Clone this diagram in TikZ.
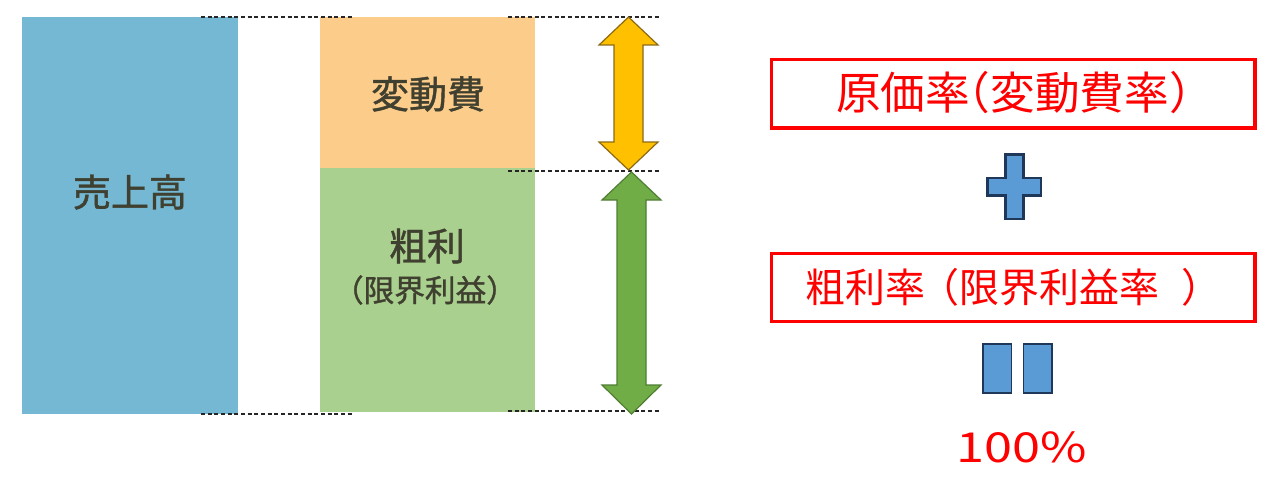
\documentclass[tikz,border=0pt]{standalone}
\usepackage{fontspec}
\newfontfamily\jp{Noto Sans CJK JP}
\newfontfamily\jpb[FakeBold=1.2]{Noto Sans CJK JP}
\definecolor{salesblue}{RGB}{116,184,211}
\definecolor{costorange}{RGB}{252,204,138}
\definecolor{profitgreen}{RGB}{169,208,142}
\definecolor{darktxt}{RGB}{64,64,48}
\definecolor{arrowyellow}{RGB}{255,192,0}
\definecolor{arrowyellowline}{RGB}{140,105,20}
\definecolor{arrowgreen}{RGB}{112,173,71}
\definecolor{arrowgreenline}{RGB}{80,126,50}
\definecolor{symblue}{RGB}{91,155,213}
\definecolor{symline}{RGB}{31,56,90}
\definecolor{boxred}{RGB}{255,0,0}
\tikzset{
  guide/.style={line width=0.8pt, dash pattern=on 3pt off 2pt, black!85},
  bigtxt/.style={font=\jpb\fontsize{28.5pt}{32pt}\selectfont, text=darktxt, inner sep=0pt},
  smalltxt/.style={font=\jpb\fontsize{23pt}{26pt}\selectfont, text=darktxt, inner sep=0pt},
  redbox/.style={draw=boxred, line width=2.4pt, fill=white},
  redtxt/.style={text=boxred, inner sep=0pt, anchor=west},
  symbol/.style={fill=symblue, draw=symline},
}
\begin{document}
\begin{tikzpicture}[x=0.75pt,y=-0.75pt]
\useasboundingbox (0,0) rectangle (1280,478);
% bars
\fill[salesblue] (22,17) rectangle (238,414);
\fill[costorange] (320,17) rectangle (535,168);
\fill[profitgreen] (320,168) rectangle (535,412);
% guides
\draw[guide] (201,17) -- (352,17);
\draw[guide] (201,414) -- (352,414);
\draw[guide] (508,17) -- (660,17);
\draw[guide] (508,171) -- (660,171);
\draw[guide] (508,411) -- (660,411);
% texts in bars
\node[bigtxt] (sales) at (130,192) {売上高};
\node[bigtxt] (varcost) at (428,94) {変動費};
\node[bigtxt] (gross) at (427,246) {粗利};
\node[smalltxt] (margin) at (425,290) {（限界利益）};
% double arrows
\draw[fill=arrowyellow, draw=arrowyellowline, line width=0.9pt, line join=miter]
  (628.5,17) -- (658,45) -- (643,45) -- (643,142) -- (658,142) -- (628.5,170)
  -- (599,142) -- (614,142) -- (614,45) -- (599,45) -- cycle;
\draw[fill=arrowgreen, draw=arrowgreenline, line width=0.9pt, line join=miter]
  (631.5,172) -- (661,200) -- (646,200) -- (646,385) -- (661,385) -- (631.5,414)
  -- (602,385) -- (617,385) -- (617,200) -- (602,200) -- cycle;
% right side
\draw[redbox] (771.5,59.5) rectangle (1255,128);
\node[redtxt, font=\jp\fontsize{33.5pt}{36pt}\selectfont] (costrate) at (836,93) {原価率\kern-0.55em（変動費率）};
\draw[symbol, line width=1.8pt]
  (1005.5,154.5) -- (1023.5,154.5) -- (1023.5,178) -- (1041,178) -- (1041,195.5)
  -- (1023.5,195.5) -- (1023.5,219) -- (1005.5,219) -- (1005.5,195.5) -- (987.5,195.5)
  -- (987.5,178) -- (1005.5,178) -- cycle;
\draw[redbox] (771.5,253.5) rectangle (1255,321.5);
\node[redtxt, font=\jp\fontsize{30pt}{33pt}\selectfont] (grossrate) at (805,287) {粗利率\kern-0.15em（限界利益率\kern0.55em）};
\draw[symbol, line width=1pt] (983,344) rectangle (1011.5,393);
\draw[symbol, line width=1pt] (1023.5,344) rectangle (1052,393);
\node[text=boxred, inner sep=0pt, anchor=base, font=\jp\fontsize{31pt}{34pt}\selectfont] (hundred) at (1022,462) {\scalebox{1.22}[1]{100\%}};
\end{tikzpicture}
\end{document}
